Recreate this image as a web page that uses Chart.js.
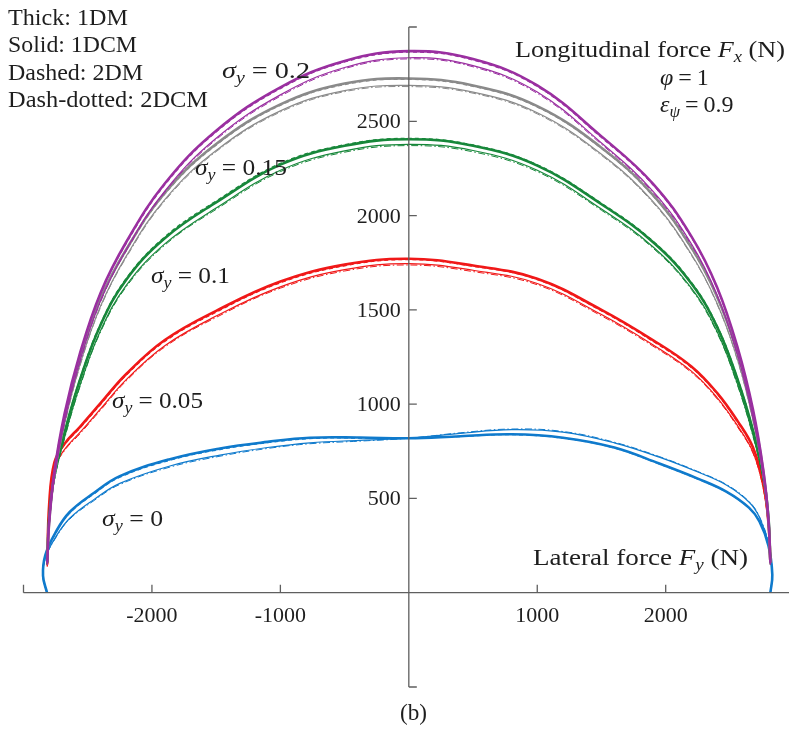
<!DOCTYPE html>
<html>
<head>
<meta charset="utf-8">
<script src="https://cdn.jsdelivr.net/npm/chart.js@4.4.1/dist/chart.umd.min.js"></script>
<style>
html,body{margin:0;padding:0;background:#fff;}
canvas{display:block;}
</style>
</head>
<body>
<canvas id="c" width="789" height="729"></canvas>
<script>
// ---------- DATA (Fy = lateral force, Fx = longitudinal force, in N) ----------
const fyGrid = [-2815, -2800, -2760, -2680, -2560, -2400, -2200, -1900, -1500, -1000, -500, 0, 500, 1000, 1500, 1900, 2200, 2400, 2560, 2680, 2760, 2800, 2815];
const fyGridBlue = [-2817, -2848, -2830, -2750, -2640, -2450, -2250, -1860, -1470, -1100, -770, -380, 0, 400, 800, 1200, 1600, 1950, 2250, 2475, 2650, 2730, 2800, 2830, 2815];

// sigma_y = 0.2 (purple)
const s020_1DM  = [160, 380, 640, 950, 1270, 1590, 1860, 2170, 2450, 2680, 2820, 2872, 2830, 2690, 2420, 2170, 1890, 1620, 1300, 970, 650, 390, 160];
const s020_1DCM = [150, 360, 610, 910, 1230, 1550, 1820, 2130, 2410, 2640, 2785, 2837, 2795, 2655, 2385, 2130, 1850, 1580, 1260, 930, 620, 370, 150];
const s020_2DM  = [158, 375, 633, 942, 1262, 1582, 1852, 2162, 2443, 2673, 2814, 2866, 2824, 2684, 2413, 2163, 1883, 1612, 1292, 962, 643, 384, 158];
const s020_2DCM = [148, 355, 603, 902, 1222, 1542, 1813, 2123, 2403, 2633, 2779, 2831, 2789, 2648, 2378, 2123, 1843, 1573, 1253, 922, 613, 364, 148];
// sigma_y = 0.15 (gray)
const s015_1DM  = [160, 370, 630, 930, 1250, 1560, 1820, 2120, 2380, 2590, 2700, 2727, 2690, 2580, 2360, 2110, 1830, 1570, 1270, 950, 640, 380, 160];
const s015_1DCM = [150, 355, 605, 895, 1210, 1520, 1785, 2085, 2345, 2555, 2663, 2690, 2655, 2545, 2325, 2075, 1795, 1535, 1235, 915, 615, 365, 150];
const s015_2DM  = [157, 366, 624, 923, 1243, 1553, 1813, 2113, 2373, 2584, 2694, 2722, 2685, 2575, 2355, 2104, 1823, 1563, 1263, 943, 634, 376, 157];
const s015_2DCM = [147, 351, 598, 888, 1203, 1513, 1778, 2078, 2339, 2549, 2657, 2684, 2649, 2539, 2319, 2069, 1789, 1529, 1229, 908, 608, 360, 147];
// sigma_y = 0.1 (green)
const s010_1DM  = [160, 400, 620, 850, 1130, 1420, 1660, 1880, 2070, 2270, 2370, 2405, 2370, 2265, 2060, 1860, 1640, 1410, 1130, 860, 620, 400, 160];
const s010_1DCM = [150, 385, 600, 825, 1100, 1390, 1630, 1850, 2040, 2240, 2343, 2378, 2345, 2240, 2035, 1835, 1615, 1385, 1105, 835, 600, 385, 150];
const s010_2DM  = [162, 404, 626, 857, 1137, 1428, 1668, 1888, 2078, 2277, 2376, 2410, 2375, 2270, 2066, 1866, 1647, 1417, 1137, 866, 626, 404, 162];
const s010_2DCM = [148, 380, 594, 818, 1093, 1383, 1622, 1843, 2033, 2233, 2336, 2371, 2338, 2233, 2028, 1828, 1608, 1378, 1098, 828, 594, 380, 148];
// sigma_y = 0.05 (red)
const s005_1DM  = [150, 470, 690, 790, 880, 1005, 1160, 1340, 1495, 1650, 1740, 1771, 1735, 1665, 1500, 1340, 1200, 1060, 910, 770, 580, 370, 160];
const s005_1DCM = [140, 440, 660, 760, 850, 975, 1130, 1310, 1467, 1622, 1713, 1745, 1710, 1640, 1475, 1315, 1175, 1035, 885, 745, 555, 350, 150];
const s005_2DM  = [148, 464, 684, 784, 873, 998, 1153, 1332, 1487, 1643, 1733, 1766, 1731, 1660, 1494, 1333, 1193, 1053, 903, 763, 574, 365, 158];
const s005_2DCM = [138, 435, 654, 754, 843, 968, 1123, 1303, 1460, 1615, 1706, 1738, 1703, 1633, 1468, 1308, 1168, 1028, 878, 739, 549, 345, 148];
// sigma_y = 0 (blue)
const s000_1DM  = [0, 90, 200, 320, 428, 530, 618, 708, 765, 800, 822, 823, 819, 830, 840, 822, 770, 685, 605, 535, 450, 378, 250, 95, 0];
const s000_1DCM = [0, 85, 185, 295, 395, 495, 580, 672, 730, 770, 795, 808, 819, 845, 865, 852, 795, 719, 640, 570, 480, 400, 262, 100, 0];
const s000_2DM  = [0, 88, 196, 315, 422, 524, 612, 702, 759, 795, 817, 820, 819, 828, 838, 819, 767, 682, 602, 532, 447, 375, 248, 94, 0];
const s000_2DCM = [0, 83, 181, 290, 390, 489, 574, 666, 724, 765, 790, 804, 819, 848, 868, 855, 798, 722, 643, 573, 483, 403, 264, 101, 0];

const xTickValues = [-2000, -1000, 1000, 2000];
const xTickLabels = ['-2000', '-1000', '1000', '2000'];
const yTickValues = [500, 1000, 1500, 2000, 2500];
const yTickLabels = ['500', '1000', '1500', '2000', '2500'];
const sigmaLabels = ['0.2', '0.15', '0.1', '0.05', '0'];

// ---------- build datasets ----------
const families = [
  {grid: fyGrid, color: '#9a2fa0', s: [s020_1DM, s020_1DCM, s020_2DM, s020_2DCM]},
  {grid: fyGrid, color: '#8a8a8a', s: [s015_1DM, s015_1DCM, s015_2DM, s015_2DCM]},
  {grid: fyGrid, color: '#17873a', s: [s010_1DM, s010_1DCM, s010_2DM, s010_2DCM]},
  {grid: fyGrid, color: '#f01818', s: [s005_1DM, s005_1DCM, s005_2DM, s005_2DCM]},
  {grid: fyGridBlue, color: '#0f7acc', s: [s000_1DM, s000_1DCM, s000_2DM, s000_2DCM]}
];
const styles = [
  {w: 2.6, dash: []},
  {w: 1.2, dash: []},
  {w: 1.1, dash: [4, 3]},
  {w: 1.0, dash: [7, 2.5, 1.5, 2.5]}
];
const datasets = [];
families.forEach(f => {
  f.s.forEach((arr, k) => {
    datasets.push({
      data: f.grid.map((x, i) => ({x: x, y: arr[i]})),
      showLine: true,
      borderColor: f.color,
      borderWidth: styles[k].w,
      borderDash: styles[k].dash,
      pointRadius: 0,
      tension: 0.4,
      fill: false
    });
  });
});

// ---------- text helpers ----------
const FF = '"Liberation Serif", "Times New Roman", serif';
function fontOf(f, size) {
  if (f === 'i') return 'italic ' + size + 'px ' + FF;
  if (f === 's') return 'italic ' + Math.round(size * 0.7) + 'px ' + FF;
  return size + 'px ' + FF;
}
function drawRich(ctx, segs, x, y, size, targetW) {
  let w = 0;
  segs.forEach(s => {
    if (s.g) { w += s.g; return; }
    ctx.font = fontOf(s.f, size);
    w += ctx.measureText(s.t).width;
  });
  const sx = targetW ? targetW / w : 1;
  ctx.save();
  ctx.translate(x, y);
  ctx.scale(sx, 1);
  ctx.textAlign = 'left';
  ctx.textBaseline = 'alphabetic';
  ctx.fillStyle = '#1e1e1e';
  let cx = 0;
  segs.forEach(s => {
    if (s.g) { cx += s.g; return; }
    ctx.font = fontOf(s.f, size);
    ctx.fillText(s.t, cx, s.f === 's' ? size * 0.22 : 0);
    cx += ctx.measureText(s.t).width;
  });
  ctx.restore();
}
function sigmaSegs(v) {
  return [{t: 'σ', f: 'i'}, {t: 'y', f: 's'}, {g: 6}, {t: '=', f: 'n'}, {g: 6}, {t: v, f: 'n'}];
}

const overlay = {
  id: 'overlay',
  afterDatasetsDraw(chart) {
    const ctx = chart.ctx;
    const xs = chart.scales.x, ys = chart.scales.y;
    const ca = chart.chartArea;
    const x0 = xs.getPixelForValue(0), y0 = ys.getPixelForValue(0);
    ctx.save();
    ctx.strokeStyle = '#5f5f5f';
    ctx.lineWidth = 1.3;
    ctx.beginPath();
    ctx.moveTo(ca.left, y0); ctx.lineTo(ca.right, y0);
    ctx.moveTo(x0, ca.top); ctx.lineTo(x0, ca.bottom);
    // x ticks (inward/up)
    [xs.min].concat(xTickValues).forEach(v => {
      const px = xs.getPixelForValue(v);
      ctx.moveTo(px, y0); ctx.lineTo(px, y0 - 8);
    });
    // y ticks (to the right)
    [ys.min].concat(yTickValues).concat([ys.max]).forEach(v => {
      const py = ys.getPixelForValue(v);
      ctx.moveTo(x0, py); ctx.lineTo(x0 + 8, py);
    });
    ctx.stroke();
    // tick labels
    ctx.fillStyle = '#1e1e1e';
    ctx.font = '22px ' + FF;
    ctx.textBaseline = 'alphabetic';
    ctx.textAlign = 'center';
    xTickValues.forEach((v, i) => ctx.fillText(xTickLabels[i], xs.getPixelForValue(v), y0 + 29));
    ctx.textAlign = 'right';
    yTickValues.forEach((v, i) => ctx.fillText(yTickLabels[i], x0 - 8, ys.getPixelForValue(v) + 7));
    ctx.restore();

    // annotations
    drawRich(ctx, [{t: 'Thick:', f: 'n'}, {g: 6}, {t: '1DM', f: 'n'}], 8, 25, 24, 120);
    drawRich(ctx, [{t: 'Solid:', f: 'n'}, {g: 6}, {t: '1DCM', f: 'n'}], 8, 52, 24, 129);
    drawRich(ctx, [{t: 'Dashed:', f: 'n'}, {g: 6}, {t: '2DM', f: 'n'}], 8, 80, 24, 135);
    drawRich(ctx, [{t: 'Dash-dotted:', f: 'n'}, {g: 6}, {t: '2DCM', f: 'n'}], 8, 107, 24, 200);

    drawRich(ctx, [{t: 'Longitudinal force ', f: 'n'}, {t: 'F', f: 'i'}, {t: 'x', f: 's'}, {g: 6}, {t: '(N)', f: 'n'}], 515, 57, 24, 270);
    drawRich(ctx, [{t: 'φ', f: 'i'}, {g: 5}, {t: '=', f: 'n'}, {g: 5}, {t: '1', f: 'n'}], 660, 85, 24);
    drawRich(ctx, [{t: 'ε', f: 'i'}, {t: 'ψ', f: 's'}, {g: 5}, {t: '=', f: 'n'}, {g: 5}, {t: '0.9', f: 'n'}], 660, 112, 24);
    drawRich(ctx, [{t: 'Lateral force ', f: 'n'}, {t: 'F', f: 'i'}, {t: 'y', f: 's'}, {g: 6}, {t: '(N)', f: 'n'}], 533, 565, 24, 215);

    const sigPos = [[222, 78, 88], [195, 175, 92], [151, 283, 79], [112, 408, 91], [102, 526, 61]];
    sigmaLabels.forEach((v, i) => drawRich(ctx, sigmaSegs(v), sigPos[i][0], sigPos[i][1], 24, sigPos[i][2]));

    drawRich(ctx, [{t: '(b)', f: 'n'}], 400, 720, 24, 27);
  }
};

new Chart(document.getElementById('c').getContext('2d'), {
  type: 'scatter',
  data: {datasets: datasets},
  options: {
    responsive: false,
    animation: false,
    devicePixelRatio: 1,
    layout: {padding: {left: 23.5, right: 0, top: 27, bottom: 42}},
    scales: {
      x: {type: 'linear', min: -3000, max: 2960, display: false},
      y: {type: 'linear', min: -500, max: 3000, display: false}
    },
    plugins: {legend: {display: false}, tooltip: {enabled: false}},
    elements: {point: {radius: 0}}
  },
  plugins: [overlay]
});
</script>
</body>
</html>
